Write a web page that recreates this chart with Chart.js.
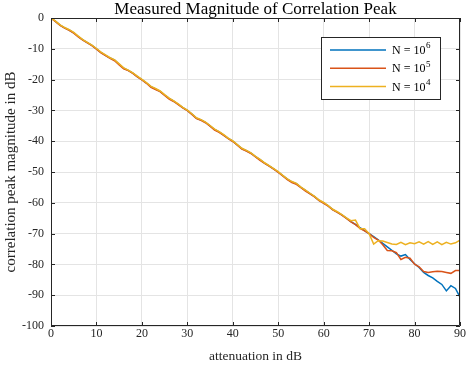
<!DOCTYPE html>
<html>
<head>
<meta charset="utf-8">
<script src="https://cdn.jsdelivr.net/npm/chart.js@4/dist/chart.umd.min.js"></script>
<style>
html,body{margin:0;padding:0;background:#fff;}
#c{display:block;}
</style>
</head>
<body>
<canvas id="c" width="467" height="365"></canvas>
<script>
// ---- data ----
const attenuation = Array.from({length: 91}, (_, i) => i); // 0..90 dB
const seriesLabels = ["N = 10^6", "N = 10^5", "N = 10^4"];
const seriesColors = ["#0072BD", "#D95319", "#EDB120"];

const magN6 = [
  0, -1.1, -2.3, -3.2, -3.9, -4.8, -6.0, -7.1, -8.0, -8.9,
  -10.0, -11.2, -12.1, -13.0, -13.7, -15.0, -16.3, -17.0, -17.9, -19.0,
  -20.0, -21.1, -22.3, -23.0, -23.8, -25.0, -26.1, -27.0, -28.0, -29.1,
  -30.0, -31.2, -32.5, -33.1, -33.9, -35.0, -36.2, -37.0, -38.0, -39.1,
  -40.0, -41.2, -42.4, -43.1, -43.9, -45.0, -46.0, -47.1, -48.0, -49.0,
  -50.0, -51.2, -52.3, -53.2, -53.8, -55.0, -56.0, -57.0, -58.0, -59.2,
  -60.0, -61.0, -62.2, -63.0, -63.9, -65.0, -66.1, -67.0, -68.1, -69.0,
  -70.0, -71.0, -72.0, -73.2, -74.3, -75.4, -76.6, -77.3, -76.8, -78.4,
  -79.8, -81.0, -82.6, -83.6, -84.4, -85.5, -86.5, -88.6, -86.9, -87.8,
  -90.6
];
const magN5 = [
  0, -1.2, -2.4, -3.3, -4.0, -4.9, -6.1, -7.2, -8.1, -9.0,
  -10.1, -11.3, -12.2, -13.1, -13.9, -15.2, -16.5, -17.1, -18.0, -19.1,
  -20.1, -21.2, -22.5, -23.2, -23.9, -25.1, -26.3, -27.1, -28.1, -29.2,
  -30.1, -31.3, -32.7, -33.2, -34.0, -35.1, -36.4, -37.1, -38.1, -39.2,
  -40.1, -41.3, -42.6, -43.2, -44.0, -45.1, -46.2, -47.2, -48.1, -49.1,
  -50.1, -51.3, -52.5, -53.4, -54.0, -55.1, -56.2, -57.1, -58.1, -59.3,
  -60.2, -61.1, -62.3, -63.1, -64.0, -65.1, -66.2, -67.1, -68.3, -69.1,
  -70.0, -71.2, -72.1, -73.6, -75.5, -75.6, -76.2, -78.4, -77.7, -78.0,
  -79.9, -80.8, -82.3, -82.6, -82.4, -82.2, -82.3, -82.6, -82.9, -82.0,
  -82.0
];
const magN4 = [
  0, -1.0, -2.2, -3.1, -3.8, -4.7, -5.9, -7.0, -7.9, -8.8,
  -9.9, -11.1, -12.0, -12.9, -13.6, -14.9, -16.2, -16.9, -17.8, -18.9,
  -19.9, -21.0, -22.2, -22.9, -23.7, -24.9, -26.0, -26.9, -27.9, -29.0,
  -29.9, -31.1, -32.4, -33.0, -33.8, -34.9, -36.1, -36.9, -37.9, -39.0,
  -39.9, -41.1, -42.3, -43.0, -43.8, -44.9, -45.9, -47.0, -47.9, -48.9,
  -49.9, -51.1, -52.2, -53.1, -53.7, -54.9, -55.9, -56.9, -57.9, -59.1,
  -59.9, -60.9, -62.1, -62.9, -63.8, -64.9, -65.8, -65.6, -68.4, -68.4,
  -70.0, -73.4, -72.3, -72.4, -72.9, -73.4, -73.5, -72.8, -73.6, -73.0,
  -73.3, -72.7, -73.4, -72.6, -73.5, -72.7, -73.6, -72.8, -73.4, -73.0,
  -72.1
];
const xTicks = [0, 10, 20, 30, 40, 50, 60, 70, 80, 90];
const yTicks = [0, -10, -20, -30, -40, -50, -60, -70, -80, -90, -100];
const titleText = "Measured Magnitude of Correlation Peak";
const xTitle = "attenuation in dB";
const yTitle = "correlation peak magnitude in dB";

// ---- styling ----
const SERIF = "'Liberation Serif', 'Times New Roman', serif";
const AX = "#262626";
const GRID = "#e4e4e4";

const toPts = arr => arr.map((v, i) => ({x: attenuation[i], y: v}));

const frame = {
  id: 'frame',
  afterDraw(chart) {
    const ctx = chart.ctx, a = chart.chartArea;
    const xs = chart.scales.x, ys = chart.scales.y;
    ctx.save();
    ctx.strokeStyle = AX;
    ctx.lineWidth = 1;
    ctx.beginPath();
    ctx.rect(a.left + 0.5, a.top + 0.5, a.right - a.left - 1, a.bottom - a.top - 1);
    ctx.stroke();
    const tl = 4;
    ctx.beginPath();
    xTicks.forEach(v => {
      const px = Math.round(xs.getPixelForValue(v)) + 0.5;
      ctx.moveTo(px, a.bottom); ctx.lineTo(px, a.bottom - tl);
      ctx.moveTo(px, a.top); ctx.lineTo(px, a.top + tl);
    });
    yTicks.forEach(v => {
      const py = Math.round(ys.getPixelForValue(v)) + 0.5;
      ctx.moveTo(a.left, py); ctx.lineTo(a.left + tl, py);
      ctx.moveTo(a.right, py); ctx.lineTo(a.right - tl, py);
    });
    ctx.stroke();

    // title
    ctx.fillStyle = "#000";
    ctx.font = "17px " + SERIF;
    ctx.textAlign = "center";
    ctx.textBaseline = "alphabetic";
    ctx.fillText(titleText, (a.left + a.right) / 2, 14);

    // legend
    const lx = 321, ly = 37, lw = 119, lh = 62;
    ctx.fillStyle = "#fff";
    ctx.fillRect(lx, ly, lw, lh);
    ctx.strokeStyle = AX;
    ctx.strokeRect(lx + 0.5, ly + 0.5, lw, lh);
    chart.data.datasets.forEach((ds, i) => {
      const y = 50 + i * 18.3;
      ctx.strokeStyle = ds.borderColor;
      ctx.lineWidth = 1.5;
      ctx.beginPath();
      ctx.moveTo(330, y); ctx.lineTo(386, y);
      ctx.stroke();
      const parts = ds.label.split("^");
      ctx.fillStyle = "#000";
      ctx.textAlign = "left";
      ctx.textBaseline = "middle";
      ctx.font = "12px " + SERIF;
      ctx.fillText(parts[0], 392, y + 1);
      const w = ctx.measureText(parts[0]).width;
      if (parts[1]) {
        ctx.font = "9px " + SERIF;
        ctx.fillText(parts[1], 392 + w + 0.5, y - 4);
      }
    });
    ctx.restore();
  }
};

new Chart(document.getElementById('c'), {
  type: 'line',
  data: {
    datasets: [magN6, magN5, magN4].map((arr, i) => ({
      label: seriesLabels[i],
      data: toPts(arr),
      borderColor: seriesColors[i],
      backgroundColor: seriesColors[i],
      borderWidth: 1.5,
      pointRadius: 0,
      tension: 0,
      fill: false,
      order: 2 - i
    }))
  },
  options: {
    responsive: false,
    devicePixelRatio: 1,
    animation: false,
    layout: {padding: {top: 18, right: 7, left: 0, bottom: 0}},
    plugins: {legend: {display: false}, title: {display: false}, tooltip: {enabled: false}},
    scales: {
      x: {
        type: 'linear', min: 0, max: 90,
        afterFit(s) { s.height = 39; },
        afterBuildTicks(s) { s.ticks = xTicks.map(v => ({value: v})); },
        ticks: {color: AX, font: {family: SERIF, size: 12}, padding: 1, maxRotation: 0},
        grid: {color: GRID, drawTicks: false},
        border: {display: false},
        title: {display: true, text: xTitle, color: AX, font: {family: SERIF, size: 13.5}, padding: {top: 0, bottom: 0}}
      },
      y: {
        type: 'linear', min: -100, max: 0,
        afterFit(s) { s.width = 51; },
        afterBuildTicks(s) { s.ticks = yTicks.slice().reverse().map(v => ({value: v})); },
        ticks: {color: AX, font: {family: SERIF, size: 12}, padding: 7},
        grid: {color: GRID, drawTicks: false},
        border: {display: false},
        title: {display: true, text: yTitle, color: AX, font: {family: SERIF, size: 15}, padding: {top: 2, bottom: 0}}
      }
    }
  },
  plugins: [frame]
});
</script>
</body>
</html>
